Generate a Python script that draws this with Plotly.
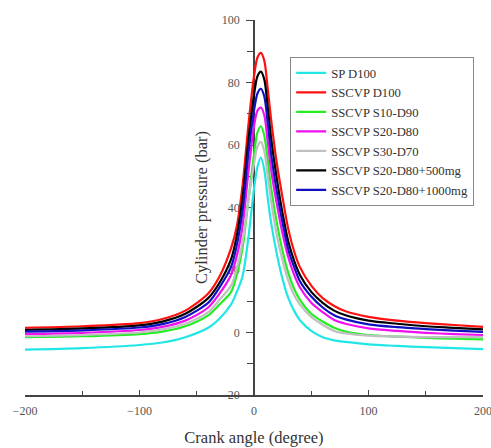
import plotly.graph_objects as go

crank_angle = [-200, -150, -100, -80, -60, -40, -30, -20, -15, -10, -5, 0, 3, 6, 9, 12, 15,
               20, 25, 30, 35, 40, 50, 60, 70, 80, 100, 125, 150, 175, 200]

sp_d100 = [-5.5, -5.0, -4.0, -3.2, -1.5, 1.5, 4.5, 9, 13, 18, 30, 46, 53, 56, 52, 43, 35,
           25, 17, 11, 7, 4, 0.5, -1.5, -2.5, -3.0, -3.8, -4.3, -4.7, -5.0, -5.3]
sscvp_d100 = [1.5, 2.0, 3.0, 4.3, 7.0, 12.5, 18, 27, 34, 47, 66, 82, 88, 89.5, 87, 78, 68,
              54, 43, 33, 26, 21, 15, 11, 8.5, 6.8, 5.0, 3.8, 3.0, 2.4, 1.8]
sscvp_s10_d90 = [-1.5, -1.2, -0.5, 0.3, 2.0, 5.5, 9, 13, 18.5, 27, 42, 57, 64, 66, 63, 55, 46,
                 35, 26, 19, 14, 10.5, 6.0, 3.5, 1.5, 0.3, -0.8, -1.3, -1.7, -2.0, -2.2]
sscvp_s20_d80 = [-0.5, -0.1, 0.8, 1.8, 3.8, 8, 12.5, 18.5, 24.5, 34, 51, 66, 71, 72, 69.5, 61, 52,
                 41, 31.5, 24, 18.5, 14.5, 9.5, 6.5, 4.0, 2.8, 1.3, 0.5, -0.1, -0.5, -0.8]
sscvp_s30_d70 = [-1.2, -0.8, 0.0, 1.0, 2.8, 6.5, 10.5, 15, 20.5, 29, 42, 54, 59.5, 61, 58, 50, 42,
                 31, 23, 16.5, 12, 9, 5.0, 2.5, 0.5, -0.3, -1.0, -1.3, -1.5, -1.5, -1.5]
sscvp_500mg = [0.8, 1.3, 2.3, 3.5, 6.0, 11, 16, 23.5, 31, 43, 61, 76, 82, 83.5, 81, 72, 62,
               49, 38, 29, 23, 18.5, 13, 9.5, 7.0, 5.5, 3.8, 2.8, 2.0, 1.5, 1.0]
sscvp_1000mg = [0.3, 0.7, 1.6, 2.7, 5.0, 9.5, 14.5, 21, 28, 39, 57, 71, 76.5, 78, 75.5, 67, 57,
                45, 35, 26.5, 21, 16.5, 11.5, 8.0, 5.5, 4.2, 2.6, 1.7, 1.1, 0.6, 0.2]

series = [
    ("SP D100", sp_d100, "#22E6E6"),
    ("SSCVP D100", sscvp_d100, "#FF1010"),
    ("SSCVP S10-D90", sscvp_s10_d90, "#22EE22"),
    ("SSCVP S20-D80", sscvp_s20_d80, "#F010F0"),
    ("SSCVP S30-D70", sscvp_s30_d70, "#C0C0C0"),
    ("SSCVP S20-D80+500mg", sscvp_500mg, "#000000"),
    ("SSCVP S20-D80+1000mg", sscvp_1000mg, "#1010C0"),
]

fig = go.Figure()
for name, vals, color in series:
    fig.add_trace(go.Scatter(x=crank_angle, y=vals, name=name, mode="lines",
                             line=dict(color=color, width=2.2, shape="spline", smoothing=0.8)))

serif = "Liberation Serif"
fig.update_layout(
    width=491, height=448,
    margin=dict(l=25, r=8, t=20, b=53, autoexpand=False),
    paper_bgcolor="white", plot_bgcolor="white",
    font=dict(family=serif, color="#333333", size=10),
    showlegend=True,
    legend=dict(x=0.579, y=0.901, xanchor="left", yanchor="top",
                bordercolor="#888888", borderwidth=1, bgcolor="rgba(255,255,255,0)",
                font=dict(family=serif, size=12.7, color="#333333"),
                itemwidth=30, tracegroupgap=0),
    xaxis=dict(range=[-200, 200], showgrid=False, zeroline=False, automargin=False,
               showline=True, linecolor="#444444", linewidth=1.5,
               ticks="inside", ticklen=5, tickcolor="#444444",
               tickvals=[-200, -100, 0, 100, 200], ticklabeloverflow="allow",
               minor=dict(tickvals=[-150, -50, 50, 150], ticks="inside", ticklen=4, tickcolor="#444444"),
               tickfont=dict(family=serif, size=12, color="#555555"), ticklabelstandoff=4,
               title=dict(text="Crank angle (degree)", font=dict(family=serif, size=16.5, color="#333333"), standoff=14)),
    yaxis=dict(range=[-20, 100], showgrid=False, zeroline=False, automargin=False,
               anchor="free", position=0.5, layer="below traces",
               showline=True, linecolor="#444444", linewidth=1.5,
               ticks="outside", ticklen=7, tickcolor="#444444",
               tickvals=[-20, 0, 20, 40, 60, 80, 100], ticklabeloverflow="allow",
               minor=dict(tickvals=[-10, 10, 30, 50, 70, 90], ticks="outside", ticklen=6, tickcolor="#444444"),
               tickfont=dict(family=serif, size=12, color="#555555"), ticklabelstandoff=4,
               title=dict(text="Cylinder pressure (bar)", font=dict(family=serif, size=16.5, color="#333333"), standoff=8)),
)

fig.write_html("out.html", config={"displayModeBar": False},
               post_script="document.body.style.margin='0px';document.body.style.overflow='hidden';")
